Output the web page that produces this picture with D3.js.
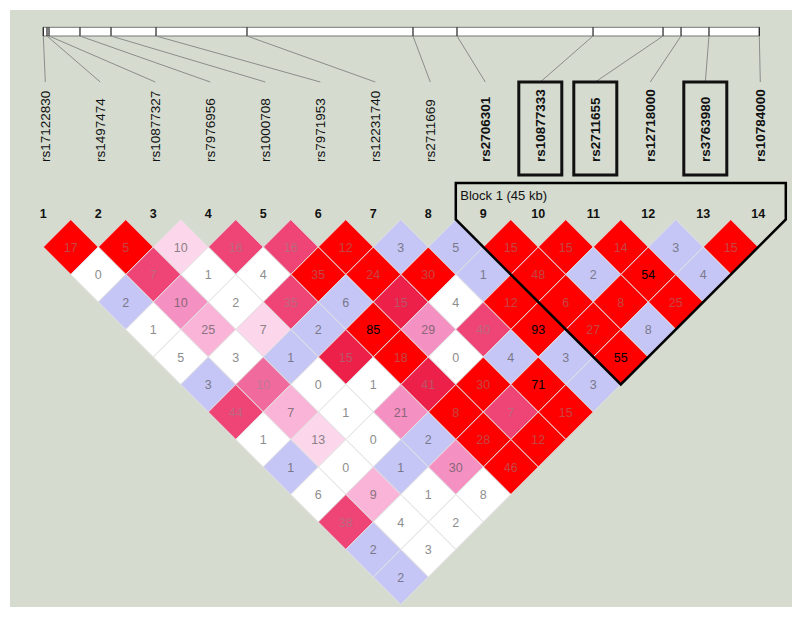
<!DOCTYPE html>
<html><head><meta charset="utf-8">
<script src="https://cdn.jsdelivr.net/npm/d3@7"></script>
<style>body{margin:0;background:#fff}svg{display:block}</style>
</head><body><svg id="c" width="800" height="617"></svg>
<script>
// ---------- data ----------
const snpNames = ["rs17122830","rs1497474","rs10877327","rs7976956","rs1000708","rs7971953","rs12231740",
  "rs2711669","rs2706301","rs10877333","rs2711655","rs12718000","rs3763980","rs10784000"];
const positionsKb = [0, 0.55, 0.85, 5.46, 10.08, 16.78, 30.32, 55.03, 61.58, 81.83, 92.25, 94.93, 99.09, 106.58];
const blockStart = 9, blockEnd = 14;
const blockLabel = "Block 1 (45 kb)";
const boxedSnps = [10, 11, 13];
// row d: values for pairs (i, i+d), i = 1..14-d
const ldValues = [
  [17,5,10,16,16,12,3,5,15,15,14,3,15],
  [0,7,1,4,35,24,30,1,48,2,54,4],
  [2,10,2,35,6,15,4,12,6,8,25],
  [1,25,7,2,85,29,40,93,27,8],
  [5,3,1,15,18,0,4,3,55],
  [3,10,0,1,41,30,71,3],
  [44,7,1,21,8,7,15],
  [1,13,0,2,28,12],
  [1,0,1,30,46],
  [6,9,1,8],
  [38,4,2],
  [2,3],
  [2]
];
// colour class per cell: W white, B blue (D'=1, LOD<2), P1..P6 pink shades, R red
const ldClasses = [
  ["R","R","P1","P5","P5","R","B","B","R","R","R","B","R"],
  ["W","P5","W","W","R","R","R","B","R","B","R","B"],
  ["B","P3","W","P5","B","P6","W","R","R","R","R"],
  ["W","P2","P1","B","R","P3","P5","R","R","B"],
  ["W","W","B","P6","R","W","B","B","R"],
  ["B","P4","W","W","P6","R","R","B"],
  ["P5","P2","W","P3","R","P5","R"],
  ["W","P1","W","B","R","R"],
  ["B","W","B","P3","R"],
  ["W","P2","W","W"],
  ["P5","W","W"],
  ["B","W"],
  ["B"]
];

// ---------- scales ----------
const svg = d3.select("#c");
const n = snpNames.length;
const x = d3.scaleLinear().domain([1, n]).range([43.3, 758.3]);
const half = (x(2) - x(1)) / 2;
const yTop = 219.5;
const yRow = d3.scaleLinear().domain([0, 1]).range([yTop, yTop + half]);
const pos = d3.scaleLinear().domain([0, d3.max(positionsKb)]).range([43.3, 759.3]);
const fillScale = d3.scaleOrdinal()
  .domain(["W","B","P1","P2","P3","P4","P5","P6","R"])
  .range(["#ffffff","#c6c6f6","#fcd6ea","#f9b4d8","#f590c2","#f06a9e","#ee4576","#ec2048","#ff0000"]);
const darkClasses = new Set(["P4","P5","P6","R"]);
const textColor = c => {
  if (c.v >= 50) return "#000";
  const bg = fillScale(c.cls);
  return darkClasses.has(c.cls) ? d3.interpolateRgb(bg, "#8a8a8a")(0.5) : d3.interpolateRgb(bg, "#505050")(0.65);
};

// background
svg.append("rect").attr("x",10).attr("y",10).attr("width",782).attr("height",597).attr("fill","#d5dbcf");

// ---------- physical map ----------
const barY0 = 27.3, barY1 = 36;
svg.append("rect").attr("x", pos(0)).attr("y", barY0)
  .attr("width", pos(d3.max(positionsKb)) - pos(0)).attr("height", barY1 - barY0)
  .attr("fill","#fff").attr("stroke","#777").attr("stroke-width",1);
const labelX = i => x(i) + 2;
positionsKb.forEach((p, k) => {
  const i = k + 1;
  svg.append("line").attr("x1", pos(p)).attr("x2", pos(p)).attr("y1", barY0).attr("y2", barY1)
    .attr("stroke","#222").attr("stroke-width",1.2);
  svg.append("line").attr("x1", pos(p)).attr("y1", barY1).attr("x2", labelX(i)).attr("y2", 82)
    .attr("stroke","#8c8c8c").attr("stroke-width",1);
});
// SNP name labels
snpNames.forEach((name, k) => {
  const i = k + 1;
  const bold = i >= blockStart && i <= blockEnd;
  svg.append("text").attr("transform", `translate(${labelX(i)},162) rotate(-90)`)
    .attr("dy","0.36em").attr("text-anchor","start")
    .attr("font-family","Liberation Sans, Arial, sans-serif").attr("font-size",13.5)
    .attr("font-weight", bold ? "bold" : "normal").attr("fill","#111").text(name);
});
boxedSnps.forEach(i => {
  svg.append("rect").attr("x", labelX(i) - 21.5).attr("y", 82).attr("width", 43).attr("height", 93)
    .attr("fill","none").attr("stroke","#111").attr("stroke-width",3);
});

// SNP numbers
snpNames.forEach((name, k) => {
  svg.append("text").attr("x", x(k + 1)).attr("y", 218).attr("text-anchor","middle")
    .attr("font-family","Liberation Sans, Arial, sans-serif").attr("font-size",12.5)
    .attr("font-weight","bold").attr("fill","#111").text(k + 1);
});

// ---------- LD diamonds ----------
const cells = [];
ldValues.forEach((row, r) => {
  const d = r + 1;
  row.forEach((v, k) => {
    const i = k + 1, j = i + d;
    cells.push({i, j, v, cls: ldClasses[r][k]});
  });
});
const g = svg.append("g");
const cg = g.selectAll("g.cell").data(cells).join("g").attr("class","cell")
  .attr("transform", c => `translate(${(x(c.i) + x(c.j)) / 2},${yRow(c.j - c.i)})`);
cg.append("path")
  .attr("d", `M0,${-half}L${half},0L0,${half}L${-half},0Z`)
  .attr("fill", c => fillScale(c.cls))
  .attr("stroke","#e2e2e2").attr("stroke-width",1);
cg.append("text").attr("text-anchor","middle").attr("dy","0.36em")
  .attr("font-family","Liberation Sans, Arial, sans-serif").attr("font-size",12.5)
  .attr("fill", textColor)
  .text(c => c.v);

// ---------- block outline ----------
const bL = x(blockStart) - half, bR = x(blockEnd) + half;
const apexX = (x(blockStart) + x(blockEnd)) / 2, apexY = yRow(blockEnd - blockStart) + half;
const blockTop = 183;
svg.append("path")
  .attr("d", `M${bL},${yTop}L${bL},${blockTop}L${bR},${blockTop}L${bR},${yTop}L${apexX},${apexY}Z`)
  .attr("fill","none").attr("stroke","#000").attr("stroke-width",2.5).attr("stroke-linejoin","miter");
svg.append("text").attr("x", bL + 4.5).attr("y", 200)
  .attr("font-family","Liberation Sans, Arial, sans-serif").attr("font-size",13)
  .attr("fill","#111").text(blockLabel);
</script>
</body></html>
